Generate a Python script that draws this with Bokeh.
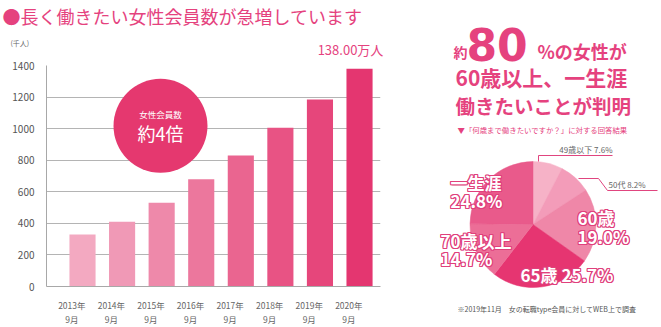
import numpy as np
from bokeh.plotting import figure
from bokeh.models import Range1d, FixedTicker
from bokeh.layouts import row, column
from bokeh.embed import file_html
from bokeh.resources import INLINE
from bokeh.core.properties import value

# ---------------- data ----------------
years = ["2013年", "2014年", "2015年", "2016年", "2017年", "2018年", "2019年", "2020年"]
month = "9月"
members = [330, 410, 530, 680, 830, 1005, 1185, 1380]
bar_colors = ["#f3a9c1", "#f099b6", "#ee89aa", "#ec779d", "#ea6590", "#e85384",
              "#e6467b", "#e43670"]
y_ticks = [0, 200, 400, 600, 800, 1000, 1200, 1400]

pie_labels = ["49歳以下", "50代", "60歳", "65歳", "70歳以上", "一生涯"]
pie_values = [7.6, 8.2, 19.0, 25.7, 14.7, 24.8]
pie_colors = ["#f6b2c7", "#f39cb9", "#ef87a8", "#e63571", "#ec6e97", "#e95a8b"]

PINK = "#e5427e"
FONT = "Noto Sans CJK JP"


def no_align(fig):
    if "frame_align" in fig.properties():
        fig.frame_align = False


def blank(fig):
    fig.outline_line_color = None
    fig.xgrid.visible = False
    fig.ygrid.visible = False
    fig.background_fill_color = "white"
    fig.border_fill_color = "white"
    no_align(fig)


# ---------------- top strip (title) ----------------
TH = 57
t = figure(width=400, height=TH, output_backend="svg", toolbar_location=None,
           x_range=Range1d(0, 400), y_range=Range1d(0, TH),
           x_axis_type=None, y_axis_type=None, min_border=0)
blank(t)


def ttxt(x, y, s, size, color, align="left"):
    t.text(x=[x], y=[TH - y], text=[s], text_font=value(FONT), text_font_size=size,
           text_color=color, text_align=align, text_baseline="middle")


ttxt(2, 15, "●長く働きたい女性会員数が急増しています", "18px", PINK)
ttxt(10, 42, "(千人)", "7px", "#666666")
ttxt(350, 48.5, "138.00万人", "13px", PINK, align="center")

# ---------------- bar chart ----------------
X0, X1 = -0.91, 7.53
PH = 327 - TH
FL, FR, FT, FB = 46, 380, 65 - TH, 292 - TH


def fx(px):
    return X0 + (px - FL) * (X1 - X0) / (FR - FL)


def fy(py):
    return (FB - (py - TH)) * 1400 / (FB - FT)


p = figure(width=400, height=PH, output_backend="svg", toolbar_location=None,
           x_range=Range1d(X0, X1), y_range=Range1d(0, 1400),
           min_border_left=FL, min_border_right=400 - FR,
           min_border_top=FT, min_border_bottom=PH - FB)
p.outline_line_color = None
p.background_fill_color = "white"
p.border_fill_color = "white"
no_align(p)

idx = list(range(len(years)))
p.xgrid.visible = False
p.ygrid.grid_line_color = "#b4b4b4"
p.ygrid.grid_line_width = 1

p.vbar(x=idx, top=members, width=0.66, fill_color=bar_colors, line_color=None)

# circle badge
p.scatter(x=[fx(160)], y=[fy(127)], size=94, marker="circle",
          fill_color="#e5386f", line_color=None)
p.text(x=[fx(160)], y=[fy(115)], text=["女性会員数"], text_font=value(FONT),
       text_font_size="8.5px", text_color="white", text_align="center",
       text_baseline="middle")
p.text(x=[fx(160)], y=[fy(134)], text=["約4倍"], text_font=value(FONT),
       text_font_size="18px", text_color="white", text_align="center",
       text_baseline="middle")

p.yaxis.ticker = FixedTicker(ticks=y_ticks)
p.yaxis.major_tick_line_color = None
p.yaxis.minor_tick_line_color = None
p.yaxis.axis_line_color = "#a8a8a8"
p.yaxis.major_label_text_font = FONT
p.yaxis.major_label_text_font_size = "10px"
p.yaxis.major_label_text_color = "#555555"
p.yaxis.major_label_standoff = 6

tick_pos = [i - 0.27 for i in idx]
p.xaxis.ticker = FixedTicker(ticks=tick_pos)
p.xaxis.major_label_overrides = {tp: f"{y}\n{month}" for tp, y in zip(tick_pos, years)}
p.xaxis.major_tick_line_color = None
p.xaxis.minor_tick_line_color = None
p.xaxis.axis_line_color = "#a8a8a8"
p.xaxis.major_label_text_font = FONT
p.xaxis.major_label_text_font_size = "8.5px"
p.xaxis.major_label_text_color = "#666666"
p.xaxis.major_label_standoff = 6

# ---------------- pie / right panel ----------------
q = figure(width=261, height=327, output_backend="svg", toolbar_location=None,
           x_range=Range1d(400, 661), y_range=Range1d(0, 327),
           x_axis_type=None, y_axis_type=None, min_border=0)
blank(q)


def Y(py):
    return 327 - py


CX, CY, R = 532.5, 224, 63
cum = np.concatenate([[0], np.cumsum(pie_values)])
starts = [90 - cum[i + 1] * 3.6 for i in range(len(pie_values))]
ends = [90 - cum[i] * 3.6 for i in range(len(pie_values))]
q.wedge(x=CX, y=Y(CY), radius=R, start_angle=starts, end_angle=ends,
        start_angle_units="deg", end_angle_units="deg",
        fill_color=pie_colors, line_color=pie_colors, line_width=0.5)


def txt(x, y, s, size, color=PINK, bold=True, align="left", font=FONT):
    q.text(x=[x], y=[Y(y)], text=[s], text_font=value(font), text_font_size=size,
           text_color=color, text_align=align, text_baseline="middle",
           text_font_style="bold" if bold else "normal")


# heading
txt(453, 51, "約", "14px")
txt(466, 44, "80", "44px", font="DejaVu Sans")
txt(537, 50, "%の女性が", "18px")
txt(455, 76, "60歳以上、一生涯", "21px")
txt(455, 105, "働きたいことが判明", "19.5px")
txt(457, 129, "▼「何歳まで働きたいですか？」に対する回答結果", "7.4px", bold=False)


def outlined(x, y, s, size=17):
    for dx, dy in [(-1, 0), (1, 0), (0, -1), (0, 1), (-1, -1), (1, 1), (-1, 1), (1, -1)]:
        q.text(x=[x + dx], y=[Y(y) + dy], text=[s], text_font=value(FONT),
               text_font_size=f"{size}px", text_color="#e0407c", text_align="left",
               text_baseline="middle", text_font_style="bold")
    q.text(x=[x], y=[Y(y)], text=[s], text_font=value(FONT),
           text_font_size=f"{size}px", text_color="white", text_align="left",
           text_baseline="middle", text_font_style="bold")


def pct(v):
    return f"{v:.1f}%"


outlined(450, 182, pie_labels[5])
outlined(450, 200, pct(pie_values[5]))
outlined(577, 217, pie_labels[2])
outlined(577, 236, pct(pie_values[2]))
outlined(440, 240, pie_labels[4])
outlined(440, 258, pct(pie_values[4]))
outlined(520, 274, f"{pie_labels[3]} {pct(pie_values[3])}")

# leader lines and small labels
q.line(x=[538, 538, 612], y=[Y(161), Y(155), Y(155)], line_color="#e0457f", line_width=1)
q.line(x=[578, 598, 607, 657], y=[Y(178), Y(178), Y(190), Y(190)],
       line_color="#e0457f", line_width=1)
txt(612, 149, f"{pie_labels[0]} {pct(pie_values[0])}", "8px", color="#666666",
    bold=False, align="right")
txt(608, 184, f"{pie_labels[1]} {pct(pie_values[1])}", "8px", color="#666666",
    bold=False)

txt(457, 308, "※2019年11月　女の転職type会員に対してWEB上で調査", "7px",
    color="#555555", bold=False)

layout = row(column(t, p), q)
open("out.html", "w").write(file_html(layout, INLINE))
